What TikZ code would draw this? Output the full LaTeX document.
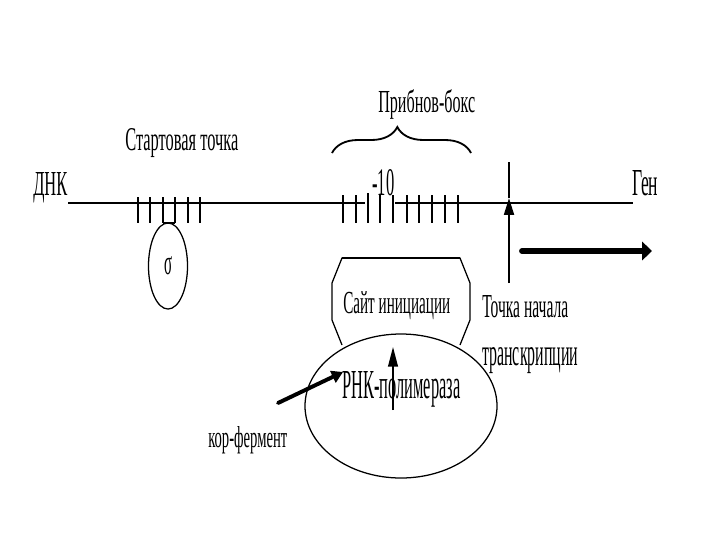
\documentclass[tikz,border=0pt]{standalone}
\usepackage{fontspec}
\setmainfont{Liberation Serif}
\usepackage{graphicx}
\usetikzlibrary{arrows.meta,shapes.geometric,decorations.pathreplacing}

\newlength\pxlen
\setlength\pxlen{0.025cm}
% squeezed text: width, height (in px of the picture), text
\newcommand{\sqz}[3]{\resizebox{#1\pxlen}{#2\pxlen}{#3}}

\begin{document}
\begin{tikzpicture}[x=0.025cm,y=-0.025cm]
    \tikzstyle{txt}=[anchor=base west,inner sep=0pt]
    \tikzstyle{dna}=[line width=2.1pt]
    \tikzstyle{dnatick}=[line width=1.1pt]
    \tikzstyle{outline}=[line width=0.9pt]
    \tikzstyle{fat}=[line width=4.2pt,line cap=round]
    \useasboundingbox (0,0) rectangle (720,540);

    % DNA strand
    \node[txt] (dnk) at (33,195) {\sqz{34}{23}{ДНК}};
    \node[txt] (gen) at (632,195) {\sqz{26}{25}{Ген}};
    \coordinate (dna-l) at (68,203);
    \coordinate (gap-l) at (365,203);
    \coordinate (gap-r) at (395,203);
    \coordinate (dna-r) at (633,203);
    \draw[dna] (dna-l) -- (gap-l);
    \draw[dna] (gap-r) -- (dna-r);

    % start point with sigma
    \node[txt] (start) at (125,150) {\sqz{113}{22}{Стартовая точка}};
    \foreach \x in {138,150,163,175,188,200}
        \draw[dnatick] (\x,197) -- (\x,223);
    \draw[line width=2pt] (188,197) -- (188,223);
    \draw[line width=2pt] (163,223) -- (175,223);
    \node[draw,ellipse,outline,minimum width=0.975cm,minimum height=2.15cm,inner sep=0pt]
        (sigma) at (168,266) {\sqz{8}{18}{σ}};

    % Pribnow box
    \node[txt] (pribnow) at (378,112) {\sqz{97}{23}{Прибнов-бокс}};
    \draw[line width=1.3pt,decorate,decoration={brace,amplitude=0.65cm,aspect=0.47}]
        (332,153) -- (471,153);
    \node[txt] (minus10) at (372,195) {\sqz{22}{26}{-10}};
    \foreach \x in {343,356,368,380,393,407,419,432,445,458}
        \draw[dnatick] (\x,195) -- (\x,223);
    \draw[line width=2pt] (368,193) -- (368,223);

    % transcription start
    \coordinate (tss-top) at (509,162);
    \coordinate (tss-tip) at (509,198);
    \coordinate (tss-bot) at (509,283);
    \draw[line width=1.6pt,-{Triangle[length=12pt,width=7pt]}] (tss-bot) -- (tss-tip);
    \draw[line width=1.6pt] (tss-tip) -- (tss-top);
    \node[txt] (tss1) at (482,317) {\sqz{86}{22}{Точка начала}};
    \node[txt] (tss2) at (482,365) {\sqz{96}{18}{транскрипции}};

    % direction of transcription
    \coordinate (dir-from) at (522,251);
    \coordinate (dir-to) at (652,251);
    \draw[fat,-{Triangle[length=7pt,width=13pt]}] (dir-from) -- (dir-to);

    % polymerase
    \draw[outline] (342,345) -- (332,320) -- (332,283) -- (342,258) -- (460,258)
        -- (470,283) -- (470,320) -- (460,345);
    \draw[line width=1.6pt] (342,258) -- (460,258);
    \node[txt] (site) at (343,313) {\sqz{107}{22}{Сайт инициации}};
    \draw[outline] (401,406) ellipse (96 and 72);
    \node[txt] (rnap) at (342,398) {\sqz{118}{27}{РНК-полимераза}};
    \coordinate (up-from) at (393,410);
    \coordinate (up-to) at (393,347);
    \draw[line width=1.1pt,-{Triangle[length=14pt,width=7pt]}] (up-from) -- (up-to);

    % core enzyme
    \node[txt] (core) at (208,447) {\sqz{79}{21}{кор-фермент}};
    \coordinate (core-from) at (278,403);
    \coordinate (core-to) at (343,372);
    \draw[line width=2.8pt,line cap=round,-{Triangle[length=8pt,width=9pt]}] (core-from) -- (core-to);
\end{tikzpicture}
\end{document}
